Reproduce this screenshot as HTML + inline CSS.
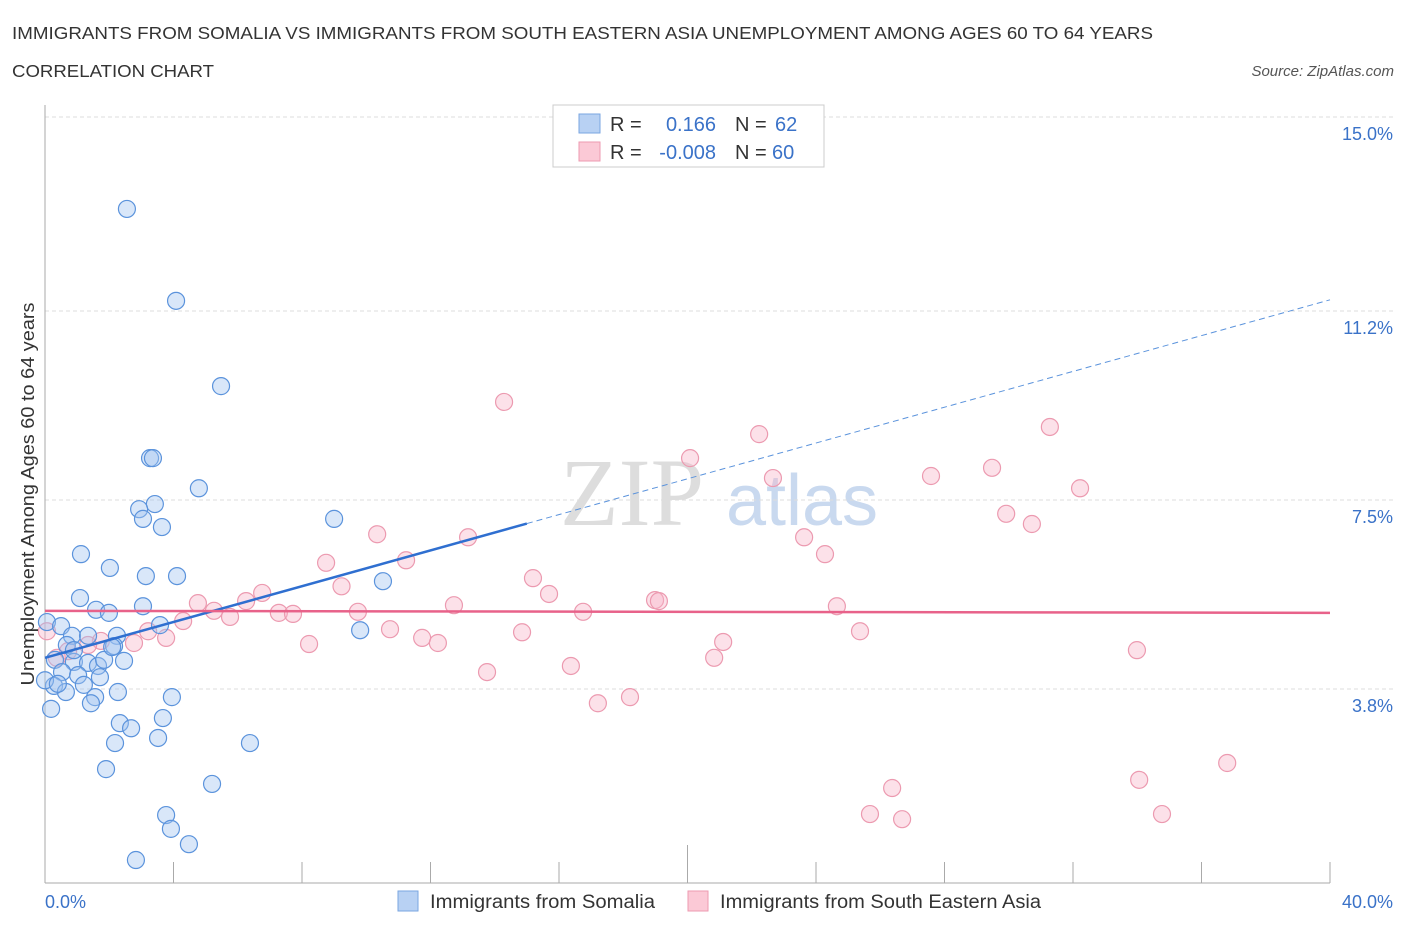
<!DOCTYPE html>
<html><head><meta charset="utf-8"><style>
body{margin:0;background:#fff;font-family:"Liberation Sans",sans-serif;}
svg{display:block}
</style></head><body>
<svg id="chart" width="1406" height="930" xmlns="http://www.w3.org/2000/svg">
<text x="12" y="39" font-size="17.5" fill="#333" textLength="1141" lengthAdjust="spacingAndGlyphs">IMMIGRANTS FROM SOMALIA VS IMMIGRANTS FROM SOUTH EASTERN ASIA UNEMPLOYMENT AMONG AGES 60 TO 64 YEARS</text>
<text x="12" y="77" font-size="17.5" fill="#333" textLength="202" lengthAdjust="spacingAndGlyphs">CORRELATION CHART</text>
<text x="1394" y="76" font-size="15" font-style="italic" fill="#555" text-anchor="end">Source: ZipAtlas.com</text>
<g>
<text x="632" y="525" font-size="96" font-family="Liberation Serif,serif" fill="#ddd" text-anchor="middle">ZIP</text>
<text x="802" y="525" font-size="72" fill="#c9d9ef" text-anchor="middle">atlas</text>
</g>
<g id="grid"></g><g id="axes"></g><g id="marks"></g>
<text transform="translate(34,494) rotate(-90)" font-size="18" fill="#333" text-anchor="middle" textLength="383" lengthAdjust="spacingAndGlyphs">Unemployment Among Ages 60 to 64 years</text>
<g>
<rect x="553" y="105" width="271" height="62" fill="#fff" stroke="#ccc"/>
<rect x="579" y="114" width="21" height="19" fill="#b8d1f3" stroke="#7aa6e0"/>
<rect x="579" y="142" width="21" height="19" fill="#fbc9d6" stroke="#ee9ab0"/>
<text x="610" y="131" font-size="20" fill="#333">R =</text>
<text x="716" y="131" font-size="20" fill="#3a72c8" text-anchor="end">0.166</text>
<text x="735" y="131" font-size="20" fill="#333">N =</text>
<text x="775" y="131" font-size="20" fill="#3a72c8">62</text>
<text x="610" y="159" font-size="20" fill="#333">R =</text>
<text x="716" y="159" font-size="20" fill="#3a72c8" text-anchor="end">-0.008</text>
<text x="735" y="159" font-size="20" fill="#333">N =</text>
<text x="772" y="159" font-size="20" fill="#3a72c8">60</text>
</g>
<g>
<rect x="398" y="891" width="20" height="20" fill="#b8d1f3" stroke="#7aa6e0"/>
<text x="430" y="908" font-size="19" fill="#333" textLength="225" lengthAdjust="spacingAndGlyphs">Immigrants from Somalia</text>
<rect x="688" y="891" width="20" height="20" fill="#fbc9d6" stroke="#ee9ab0"/>
<text x="720" y="908" font-size="19" fill="#333" textLength="321" lengthAdjust="spacingAndGlyphs">Immigrants from South Eastern Asia</text>
</g>
</svg>
<script>
const yTicks=[3.8,7.5,11.2,15.0];
const yTickLabels=["3.8%","7.5%","11.2%","15.0%"];
const xTickValues=[0,4,8,12,16,20,24,28,32,36,40];
const somaliaX=[2.55,4.08,5.48,3.27,3.36,4.79,3.42,2.93,3.05,3.64,9.00,1.12,2.02,3.14,4.11,10.52,1.09,1.59,1.99,3.05,3.58,9.81,0.06,0.50,0.84,1.34,2.24,2.15,0.68,0.31,0.90,1.34,1.65,1.84,2.46,0.53,1.03,1.71,0.28,0.65,1.21,1.56,2.27,1.43,3.95,0.19,2.33,2.68,3.67,2.18,3.52,6.38,1.90,5.20,3.77,3.92,4.48,2.83,0.90,0.0,0.40,2.09];
const somaliaY=[13.20,11.40,9.73,8.32,8.32,7.73,7.42,7.32,7.13,6.97,7.13,6.44,6.17,6.01,6.01,5.91,5.58,5.35,5.29,5.42,5.05,4.95,5.11,5.03,4.84,4.84,4.84,4.64,4.66,4.37,4.33,4.31,4.25,4.37,4.35,4.13,4.07,4.03,3.86,3.74,3.88,3.64,3.74,3.52,3.64,3.41,3.13,3.03,3.23,2.74,2.84,2.74,2.23,1.94,1.33,1.06,0.76,0.45,4.56,3.97,3.90,4.62];
const seaX=[14.29,22.23,31.28,20.08,22.66,29.48,27.58,32.22,29.92,30.72,10.34,13.17,23.63,11.24,24.28,8.75,15.19,9.23,15.69,6.76,6.26,4.76,5.26,5.76,7.28,7.72,9.74,12.73,16.75,18.99,19.11,24.65,4.30,3.21,3.77,10.74,14.85,25.37,11.74,12.23,8.22,21.11,1.74,2.77,33.99,20.83,0.37,13.76,16.37,17.21,18.21,36.80,34.06,26.37,25.68,26.68,34.77,0.06,1.34,0.72];
const seaY=[9.42,8.79,8.93,8.32,7.93,8.13,7.97,7.73,7.23,7.03,6.83,6.77,6.77,6.32,6.44,6.27,5.97,5.81,5.66,5.68,5.52,5.48,5.33,5.21,5.29,5.27,5.31,5.44,5.31,5.54,5.52,5.42,5.13,4.93,4.80,4.97,4.91,4.93,4.80,4.70,4.68,4.72,4.74,4.70,4.56,4.41,4.41,4.13,4.25,3.52,3.64,2.35,2.02,1.86,1.35,1.25,1.35,4.93,4.66,4.54];
const somaliaTrend=[4.41,11.42];
const seaTrend=[5.33,5.29];
const somaliaSolidEnd=15.0;

const NS="http://www.w3.org/2000/svg";
const X0=45,X1=1330,Y0=883,YTOP=117;
function sx(v){return X0+(v/40)*(X1-X0);}
function sy(v){return Y0-(v/15)*(Y0-YTOP);}
function mk(tag,attrs,parent){const e=document.createElementNS(NS,tag);for(const k in attrs)e.setAttribute(k,attrs[k]);parent.appendChild(e);return e;}
const grid=document.getElementById('grid'),axes=document.getElementById('axes'),marks=document.getElementById('marks');
yTicks.forEach((t,i)=>{
  const y=sy(t);
  const l=mk('line',{x1:X0,x2:1395,y1:y,y2:y,stroke:'#ddd','stroke-dasharray':'4,3'},grid);
  
  
  const tx=mk('text',{x:1393,y:y+23,'font-size':18,fill:'#3a72c8','text-anchor':'end'},axes);
  tx.textContent=yTickLabels[i];
  
  
});
const ya=mk('line',{x1:X0,x2:X0,y1:105,y2:Y0,stroke:'#aaa'},axes);


const xa=mk('line',{x1:X0,x2:X1,y1:Y0,y2:Y0,stroke:'#aaa'},axes);


xTickValues.forEach((t,i)=>{
  const x=sx(t);
  const tk=mk('line',{x1:x,x2:x,y1:(i===5?845:862),y2:Y0,stroke:'#aaa'},axes);
  
  
});
const xl0=mk('text',{x:45,y:908,'font-size':18,fill:'#3a72c8'},axes);xl0.textContent='0.0%';


const xl1=mk('text',{x:1393,y:908,'font-size':18,fill:'#3a72c8','text-anchor':'end'},axes);xl1.textContent='40.0%';



function dots(xs,ys,fill,stroke,name){
  xs.forEach((v,i)=>{
    const c=mk('circle',{cx:sx(v),cy:sy(ys[i]),r:8.5,fill:fill,stroke:stroke,'stroke-width':1.2},marks);
    
    
  });
}
dots(seaX,seaY,'rgba(248,180,200,0.4)','#ec9ab0','point-south-eastern-asia');
dots(somaliaX,somaliaY,'rgba(160,195,240,0.4)','#5b93dc','point-somalia');
function lv(a,x){return a[0]+(a[1]-a[0])*x/40;}
const bs=mk('line',{x1:sx(0),y1:sy(lv(somaliaTrend,0)),x2:sx(somaliaSolidEnd),y2:sy(lv(somaliaTrend,somaliaSolidEnd)),stroke:'#2f6fd0','stroke-width':2.5},marks);


const bd=mk('line',{x1:sx(somaliaSolidEnd),y1:sy(lv(somaliaTrend,somaliaSolidEnd)),x2:sx(40),y2:sy(lv(somaliaTrend,40)),stroke:'#5b93dc','stroke-width':1,'stroke-dasharray':'6,4'},marks);


const pl=mk('line',{x1:sx(0),y1:sy(seaTrend[0]),x2:sx(40),y2:sy(seaTrend[1]),stroke:'#e8628a','stroke-width':2.5},marks);


</script>
</body></html>
